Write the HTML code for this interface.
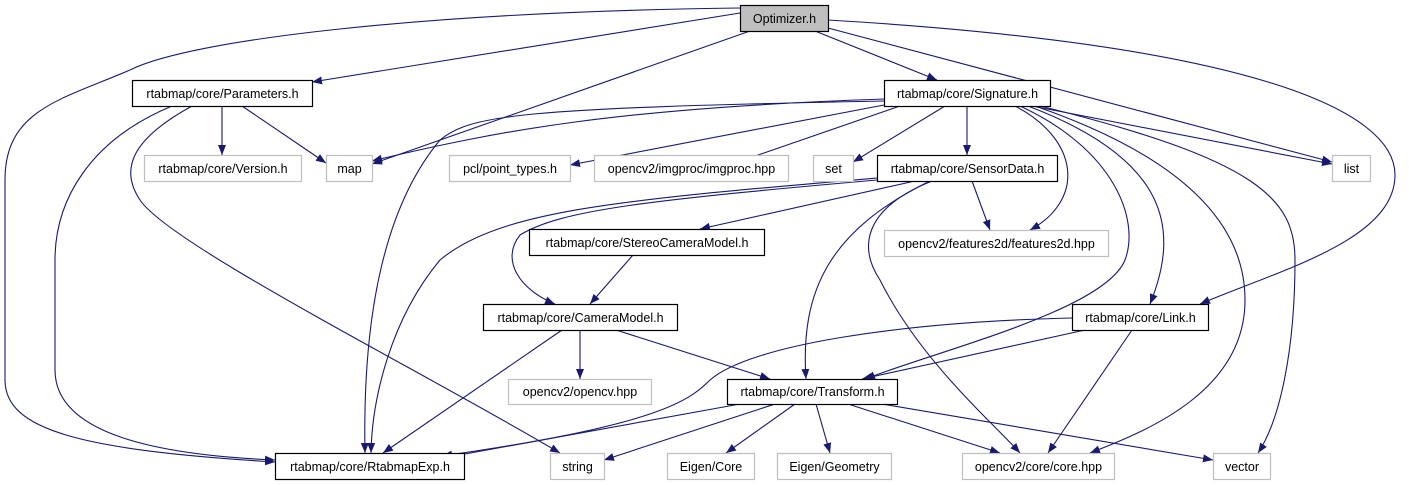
<!DOCTYPE html>
<html><head><meta charset="utf-8"><style>
html,body{margin:0;padding:0;background:#fff;}
svg{display:block;}
text{font-family:"Liberation Sans",Arial,sans-serif;font-size:12.5px;fill:#000;}
</style></head><body>
<svg width="1409" height="485" viewBox="0 0 1409 485" xmlns="http://www.w3.org/2000/svg">
<defs>
<marker id="a" viewBox="0 0 10 10" refX="10" refY="5" markerWidth="10" markerHeight="10" markerUnits="userSpaceOnUse" orient="auto">
<path d="M0,1 L10,5 L0,9 z" fill="#191970"/>
</marker>
</defs>
<g fill="none" stroke="#191970" stroke-width="1.1" marker-end="url(#a)">
<path d="M740,8 C420,12 190,40 130,70 C60,100 5,110 5,180 L5,380 C5,430 80,450 275,462"/>
<path d="M740,13 L312,82"/>
<path d="M750,31 L372,164"/>
<path d="M815,31 L937,80"/>
<path d="M828,28 L1332,162"/>
<path d="M828,20 C1250,45 1395,110 1395,175 C1395,240 1280,270 1200,304"/>
<path d="M222,106 L222,155"/>
<path d="M242,106 L326,163"/>
<path d="M172,106 C90,140 55,200 55,260 L55,370 C55,435 160,455 275,460"/>
<path d="M192,106 C130,140 120,170 140,200 C170,245 420,370 560,453"/>
<path d="M884,99 C620,108 500,130 372,161"/>
<path d="M884,101 C520,108 470,115 440,140 C390,200 362,300 365,453"/>
<path d="M884,105 L570,165"/>
<path d="M900,106 L735,163"/>
<path d="M945,106 L853,162"/>
<path d="M967,106 L967,155"/>
<path d="M1015,106 C1080,140 1085,200 1030,230"/>
<path d="M1020,106 C1115,150 1140,220 1125,260 C1105,310 940,350 865,379"/>
<path d="M1028,106 C1170,160 1180,230 1150,304"/>
<path d="M1035,106 C1220,170 1245,250 1245,300 C1245,390 1150,430 1090,453"/>
<path d="M1040,106 C1260,160 1295,200 1295,260 C1295,350 1280,420 1258,453"/>
<path d="M1032,106 L1332,164"/>
<path d="M877,178 C620,200 500,210 440,260 C390,320 372,400 371,453"/>
<path d="M915,181 L700,229"/>
<path d="M877,180 C650,200 560,210 520,235 C500,260 520,290 555,304"/>
<path d="M930,181 C830,230 800,290 806,379"/>
<path d="M932,181 C860,210 860,250 880,280 C920,360 990,420 1020,453"/>
<path d="M972,181 L990,230"/>
<path d="M633,255 L590,304"/>
<path d="M562,330 L383,453"/>
<path d="M580,330 L580,379"/>
<path d="M616,330 L770,379"/>
<path d="M1072,318 C900,322 750,345 710,380 C690,400 660,425 442,456"/>
<path d="M1085,330 L862,379"/>
<path d="M1132,330 L1048,453"/>
<path d="M740,404 L443,458"/>
<path d="M775,404 L604,460"/>
<path d="M795,404 L726,453"/>
<path d="M816,404 L830,453"/>
<path d="M848,404 L1000,453"/>
<path d="M882,404 L1213,460"/>
</g>
<g stroke-width="1.2">
<rect x="740.5" y="5.5" width="88" height="26" fill="#bfbfbf" stroke="#000"/>
<rect x="132.5" y="80.5" width="180" height="26" fill="#fff" stroke="#000"/>
<rect x="884.5" y="80.5" width="166" height="26" fill="#fff" stroke="#000"/>
<rect x="144.5" y="155.5" width="157" height="26" fill="#fff" stroke="#bfbfbf"/>
<rect x="326.5" y="155.5" width="46" height="26" fill="#fff" stroke="#bfbfbf"/>
<rect x="449.5" y="155.5" width="121" height="26" fill="#fff" stroke="#bfbfbf"/>
<rect x="594.5" y="155.5" width="194" height="26" fill="#fff" stroke="#bfbfbf"/>
<rect x="813.5" y="155.5" width="40" height="26" fill="#fff" stroke="#bfbfbf"/>
<rect x="877.5" y="155.5" width="180" height="26" fill="#fff" stroke="#000"/>
<rect x="1332.5" y="155.5" width="38" height="26" fill="#fff" stroke="#bfbfbf"/>
<rect x="529.5" y="229.5" width="235" height="26" fill="#fff" stroke="#000"/>
<rect x="884.5" y="230.5" width="224" height="26" fill="#fff" stroke="#bfbfbf"/>
<rect x="483.5" y="304.5" width="194" height="26" fill="#fff" stroke="#000"/>
<rect x="1072.5" y="304.5" width="136" height="26" fill="#fff" stroke="#000"/>
<rect x="508.5" y="379.5" width="143" height="25" fill="#fff" stroke="#bfbfbf"/>
<rect x="727.5" y="379.5" width="170" height="25" fill="#fff" stroke="#000"/>
<rect x="275.5" y="453.5" width="189" height="26" fill="#fff" stroke="#000"/>
<rect x="550.5" y="453.5" width="54" height="26" fill="#fff" stroke="#bfbfbf"/>
<rect x="667.5" y="453.5" width="87" height="26" fill="#fff" stroke="#bfbfbf"/>
<rect x="777.5" y="453.5" width="114" height="26" fill="#fff" stroke="#bfbfbf"/>
<rect x="962.5" y="453.5" width="152" height="26" fill="#fff" stroke="#bfbfbf"/>
<rect x="1213.5" y="453.5" width="57" height="26" fill="#fff" stroke="#bfbfbf"/>
</g>
<g text-anchor="middle">
<text x="784.5" y="23">Optimizer.h</text>
<text x="222.5" y="98">rtabmap/core/Parameters.h</text>
<text x="967.5" y="98">rtabmap/core/Signature.h</text>
<text x="223" y="173">rtabmap/core/Version.h</text>
<text x="349.5" y="173">map</text>
<text x="510" y="173">pcl/point_types.h</text>
<text x="691.5" y="173">opencv2/imgproc/imgproc.hpp</text>
<text x="833.5" y="173">set</text>
<text x="967.5" y="173">rtabmap/core/SensorData.h</text>
<text x="1351.5" y="173">list</text>
<text x="647" y="247">rtabmap/core/StereoCameraModel.h</text>
<text x="996.5" y="248">opencv2/features2d/features2d.hpp</text>
<text x="580.5" y="322">rtabmap/core/CameraModel.h</text>
<text x="1140.5" y="322">rtabmap/core/Link.h</text>
<text x="580" y="396">opencv2/opencv.hpp</text>
<text x="812.5" y="396">rtabmap/core/Transform.h</text>
<text x="370" y="471">rtabmap/core/RtabmapExp.h</text>
<text x="577.5" y="471">string</text>
<text x="711" y="471">Eigen/Core</text>
<text x="834.5" y="471">Eigen/Geometry</text>
<text x="1038.5" y="471">opencv2/core/core.hpp</text>
<text x="1242" y="471">vector</text>
</g>
</svg>
</body></html>
